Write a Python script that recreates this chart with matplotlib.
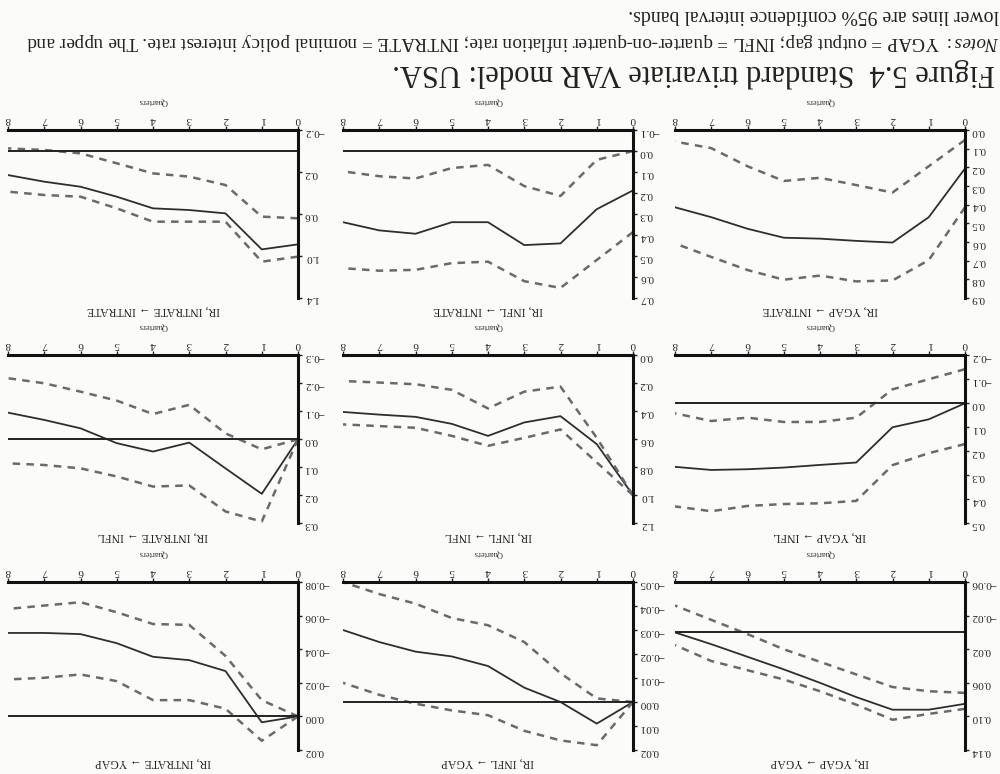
import numpy as np
import matplotlib.pyplot as plt

# the page was scanned upside down, so every panel is drawn with both axes
# inverted and all text turned by 180 degrees
plt.rcParams['font.family'] = ['Liberation Serif', 'DejaVu Serif']
plt.rcParams['mathtext.fontset'] = 'custom'
plt.rcParams['mathtext.it'] = 'Liberation Serif:italic'
plt.rcParams['mathtext.rm'] = 'Liberation Serif'

quarters = [0, 1, 2, 3, 4, 5, 6, 7, 8]

# responses of YGAP
ygap_ygap = [0.085, 0.092, 0.092, 0.077, 0.060, 0.044, 0.029, 0.014, 0.0]
ygap_ygap_lo = [0.072, 0.070, 0.065, 0.050, 0.035, 0.020, 0.002, -0.015, -0.032]
ygap_ygap_hi = [0.091, 0.097, 0.104, 0.086, 0.070, 0.056, 0.045, 0.034, 0.015]
infl_ygap = [0.0, 0.009, 0.0, -0.006, -0.015, -0.019, -0.021, -0.025, -0.030]
infl_ygap_lo = [0.0, -0.0015, -0.012, -0.025, -0.032, -0.035, -0.041, -0.045, -0.050]
infl_ygap_hi = [0.0, 0.018, 0.016, 0.012, 0.0055, 0.0035, 0.0007, -0.003, -0.008]
intrate_ygap = [0.0, 0.0035, -0.027, -0.0335, -0.0355, -0.0436, -0.049, -0.0497, -0.0497]
intrate_ygap_lo = [0.0, -0.0097, -0.036, -0.0545, -0.055, -0.062, -0.068, -0.066, -0.064]
intrate_ygap_hi = [0.0, 0.0145, -0.0046, -0.0097, -0.0097, -0.021, -0.025, -0.023, -0.022]

# responses of INFL
ygap_infl = [0.0, 0.067, 0.10, 0.247, 0.257, 0.268, 0.275, 0.278, 0.265]
ygap_infl_lo = [-0.142, -0.10, -0.058, 0.060, 0.078, 0.078, 0.060, 0.074, 0.042]
ygap_infl_hi = [0.17, 0.208, 0.258, 0.407, 0.417, 0.42, 0.428, 0.45, 0.43]
infl_infl = [1.0, 0.635, 0.435, 0.48, 0.576, 0.49, 0.44, 0.424, 0.405]
infl_infl_lo = [1.0, 0.59, 0.224, 0.26, 0.38, 0.247, 0.207, 0.195, 0.184]
infl_infl_hi = [1.0, 0.765, 0.53, 0.59, 0.647, 0.576, 0.518, 0.506, 0.494]
intrate_infl = [0.0, 0.195, 0.104, 0.012, 0.044, 0.014, -0.039, -0.069, -0.095]
intrate_infl_lo = [0.0, 0.036, -0.021, -0.123, -0.09, -0.138, -0.17, -0.20, -0.218]
intrate_infl_hi = [0.0, 0.294, 0.258, 0.165, 0.169, 0.133, 0.104, 0.092, 0.086]

# responses of INTRATE
ygap_intrate = [0.206, 0.467, 0.603, 0.594, 0.582, 0.577, 0.529, 0.467, 0.414]
ygap_intrate_lo = [0.053, 0.194, 0.335, 0.295, 0.256, 0.273, 0.194, 0.097, 0.062]
ygap_intrate_hi = [0.414, 0.697, 0.806, 0.811, 0.78, 0.802, 0.75, 0.68, 0.608]
infl_intrate = [0.1875, 0.277, 0.44, 0.448, 0.339, 0.339, 0.394, 0.378, 0.339]
infl_intrate_lo = [0.0, 0.042, 0.214, 0.167, 0.066, 0.081, 0.131, 0.12, 0.097]
infl_intrate_hi = [0.386, 0.519, 0.652, 0.62, 0.527, 0.534, 0.566, 0.57, 0.558]
intrate_intrate = [0.889, 0.937, 0.594, 0.562, 0.546, 0.435, 0.34, 0.292, 0.229]
intrate_intrate_lo = [0.641, 0.625, 0.324, 0.244, 0.213, 0.117, 0.022, -0.01, -0.025]
intrate_intrate_hi = [1.006, 1.054, 0.673, 0.673, 0.673, 0.546, 0.435, 0.419, 0.387]

# (title, irf, lower, upper, yticks, decimals, row, col) -- row/col as printed
panels = [
    ('IR, YGAP \u2192 YGAP', ygap_ygap, ygap_ygap_lo, ygap_ygap_hi,
     [-0.06, -0.02, 0.02, 0.06, 0.10, 0.14], 2, 0, 0),
    ('IR, INFL \u2192 YGAP', infl_ygap, infl_ygap_lo, infl_ygap_hi,
     [-0.05, -0.04, -0.03, -0.02, -0.01, 0.0, 0.01, 0.02], 2, 0, 1),
    ('IR, INTRATE \u2192 YGAP', intrate_ygap, intrate_ygap_lo, intrate_ygap_hi,
     [-0.08, -0.06, -0.04, -0.02, 0.0, 0.02], 2, 0, 2),
    ('IR, YGAP \u2192 INFL', ygap_infl, ygap_infl_lo, ygap_infl_hi,
     [-0.2, -0.1, 0.0, 0.1, 0.2, 0.3, 0.4, 0.5], 1, 1, 0),
    ('IR, INFL \u2192 INFL', infl_infl, infl_infl_lo, infl_infl_hi,
     [0.0, 0.2, 0.4, 0.6, 0.8, 1.0, 1.2], 1, 1, 1),
    ('IR, INTRATE \u2192 INFL', intrate_infl, intrate_infl_lo, intrate_infl_hi,
     [-0.3, -0.2, -0.1, 0.0, 0.1, 0.2, 0.3], 1, 1, 2),
    ('IR, YGAP \u2192 INTRATE', ygap_intrate, ygap_intrate_lo, ygap_intrate_hi,
     [0.0, 0.1, 0.2, 0.3, 0.4, 0.5, 0.6, 0.7, 0.8, 0.9], 1, 2, 0),
    ('IR, INFL \u2192 INTRATE', infl_intrate, infl_intrate_lo, infl_intrate_hi,
     [-0.1, 0.0, 0.1, 0.2, 0.3, 0.4, 0.5, 0.6, 0.7], 1, 2, 1),
    ('IR, INTRATE \u2192 INTRATE', intrate_intrate, intrate_intrate_lo, intrate_intrate_hi,
     [-0.2, 0.2, 0.6, 1.0, 1.4], 1, 2, 2),
]

col_left = [0.675, 0.343, 0.008]
row_bottom = [0.031, 0.324, 0.615]

fig = plt.figure(figsize=(10, 7.74), dpi=100, facecolor='#fbfbfa')

for title, irf, lo, hi, yticks, dec, r, c in panels:
    ax = fig.add_axes([col_left[c], row_bottom[r], 0.29, 0.217])
    ax.set_facecolor('none')
    ax.plot(quarters, irf, color='#2e2e2e', lw=1.3)
    ax.plot(quarters, lo, color='#6a6a6a', lw=1.8, ls=(0, (3, 2.5)))
    ax.plot(quarters, hi, color='#6a6a6a', lw=1.8, ls=(0, (3, 2.5)))
    if yticks[0] < 0:
        ax.axhline(0, color='#222222', lw=1.4)
    ax.set_xlim(8, 0)
    ax.set_ylim(yticks[-1], yticks[0])
    ax.set_xticks(quarters)
    ax.set_yticks(yticks)
    ax.set_yticklabels([f'{v:.{dec}f}'.replace('-', '\u2212') if abs(v) > 1e-9
                        else f'{0:.{dec}f}' for v in yticks])
    for s in ['left', 'bottom']:
        ax.spines[s].set_visible(False)
    for s in ['top', 'right']:
        ax.spines[s].set_linewidth(2.2)
        ax.spines[s].set_color('#111111')
    ax.xaxis.tick_top()
    ax.yaxis.tick_right()
    ax.tick_params(axis='both', labelrotation=180, labelsize=8, length=3,
                   width=1, colors='#222222', pad=1.5)
    ax.text(0.5, 1.17, 'Quarters', transform=ax.transAxes, rotation=180,
            ha='center', va='center', fontsize=6, color='#333333')
    ax.text(0.5, -0.075, title, transform=ax.transAxes, rotation=180,
            ha='center', va='center', fontsize=8.5, color='#222222')

fig.text(0.995, 0.906, 'Figure 5.4  Standard trivariate VAR model: USA.',
         rotation=180, rotation_mode='anchor', ha='left', va='center',
         fontsize=22, color='#222222')
fig.text(0.999, 0.946, r'$\it{Notes:}$ YGAP = output gap; INFL = quarter-on-quarter inflation rate; '
         r'INTRATE = nominal policy interest rate. The upper and',
         rotation=180, rotation_mode='anchor', ha='left', va='center',
         fontsize=13.8, color='#222222')
fig.text(0.999, 0.981, 'lower lines are 95% confidence interval bands.',
         rotation=180, rotation_mode='anchor', ha='left', va='center',
         fontsize=14.2, color='#222222')

fig.savefig('out.png', dpi=100, facecolor=fig.get_facecolor())
